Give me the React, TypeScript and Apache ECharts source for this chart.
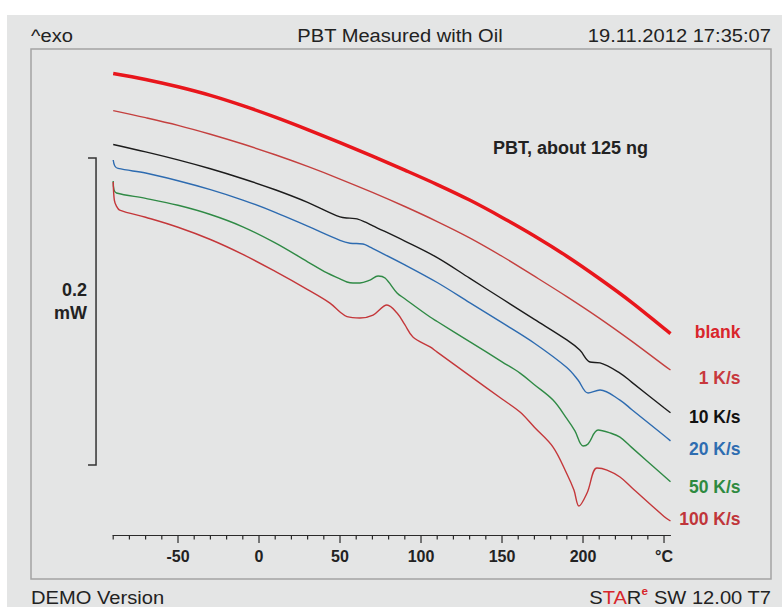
import React, { useEffect, useRef } from 'react';
import * as echarts from 'echarts';

const FONT = '"Liberation Sans", Arial, Helvetica, sans-serif';

// Temperature (°C) and heat flow (mW, arbitrary offset) per curve
const T_BLANK = [-90, -70, -50, -30, -10, 10, 30, 50, 70, 90, 110, 130, 150, 170, 190, 210, 230, 250, 254];
const V_BLANK = [0.3007, 0.2968, 0.2920, 0.2864, 0.2797, 0.2722, 0.2641, 0.2556, 0.2468, 0.2377, 0.2283, 0.2182, 0.2069, 0.1948, 0.1816, 0.1671, 0.1516, 0.1346, 0.1312];

const T_1K = [-90, -70, -50, -30, -10, 10, 30, 50, 70, 90, 110, 130, 150, 170, 190, 210, 230, 250, 254];
const V_1K = [0.2765, 0.2719, 0.2669, 0.2611, 0.2547, 0.2477, 0.2401, 0.2319, 0.2232, 0.2140, 0.2042, 0.1936, 0.1816, 0.1686, 0.1553, 0.1413, 0.1263, 0.1105, 0.1075];

const T_10K = [-90, -70, -50, -30, -10, 10, 30, 50, 56, 60.5, 66.7, 70, 90, 110, 130, 150, 170, 190, 198, 204.3, 210.5, 222.8, 230, 250, 254];
const V_10K = [0.2544, 0.2496, 0.2444, 0.2386, 0.2321, 0.2249, 0.2167, 0.2072, 0.2064, 0.2059, 0.2033, 0.2016, 0.1915, 0.1807, 0.1673, 0.1539, 0.1405, 0.1271, 0.1205, 0.1127, 0.1121, 0.1055, 0.0996, 0.0829, 0.0796];

const T_20K = [-90, -89, -87, -70, -50, -30, -10, 10, 30, 50, 56.2, 64.2, 68.5, 70, 90, 110, 130, 150, 170, 190, 196.9, 203.1, 210.5, 222.8, 230, 250, 254];
const V_20K = [0.2443, 0.2404, 0.2388, 0.2358, 0.2308, 0.2250, 0.2182, 0.2102, 0.2012, 0.1920, 0.1901, 0.1896, 0.1876, 0.1868, 0.1760, 0.1645, 0.1514, 0.1383, 0.1249, 0.1091, 0.1010, 0.0925, 0.0945, 0.0879, 0.0818, 0.0648, 0.0613];

const T_50K = [-90, -89.5, -88, -70, -50, -30, -10, 10, 30, 42, 50, 54.3, 58, 62.3, 68.5, 73.5, 77.8, 85.2, 90, 105.6, 110, 130, 150, 161.1, 170, 181.5, 190, 195, 200, 203.1, 209.3, 216.7, 222.8, 230, 250, 254];
const V_50K = [0.2306, 0.2248, 0.2228, 0.2193, 0.2148, 0.2088, 0.2008, 0.1903, 0.1780, 0.1707, 0.1668, 0.1648, 0.1642, 0.1642, 0.1661, 0.1687, 0.1674, 0.1577, 0.1539, 0.1420, 0.1391, 0.1260, 0.1128, 0.1055, 0.0979, 0.0879, 0.0758, 0.0678, 0.0580, 0.0593, 0.0684, 0.0665, 0.0638, 0.0571, 0.0384, 0.0347];

const T_100K = [-90, -89.3, -88, -86, -70, -50, -30, -10, 10, 30, 43.8, 50, 54.3, 62.3, 70.4, 79, 85.2, 90, 95, 105.6, 110, 130, 150, 161.1, 170, 181.5, 190, 194.4, 197.5, 202.5, 208.6, 214.8, 222.8, 230, 250, 254];
const V_100K = [0.2300, 0.2182, 0.2143, 0.2117, 0.2070, 0.2005, 0.1925, 0.1828, 0.1717, 0.1599, 0.1511, 0.1453, 0.1423, 0.1414, 0.1433, 0.1498, 0.1446, 0.1370, 0.1290, 0.1225, 0.1191, 0.1038, 0.0886, 0.0801, 0.0702, 0.0573, 0.0399, 0.0293, 0.0189, 0.0274, 0.0436, 0.0423, 0.0378, 0.0310, 0.0121, 0.0091];

const SERIES_NAMES = ['blank', '1 K/s', '10 K/s', '20 K/s', '50 K/s', '100 K/s'];
const LINE_COLORS = ['#e8161c', '#c4403f', '#1c1c1c', '#2d6bb0', '#2f8a45', '#c4373a'];
const LABEL_COLORS = ['#d9262c', '#c8383d', '#111111', '#2e6db1', '#2e8a40', '#c0353a'];
const LINE_WIDTHS = [3.5, 1.4, 1.4, 1.4, 1.4, 1.4];
const LABEL_DY = [-2, 8, 4, 8, 5, -2];

// axis ticks (°C)
const TICKS = [-90, -80, -70, -60, -50, -40, -30, -20, -10, 0, 10, 20, 30, 40, 50, 60, 70, 80, 90, 100, 110, 120, 130, 140, 150, 160, 170, 180, 190, 200, 210, 220, 230, 240, 250];
const MAJOR_TICKS = [-50, 0, 50, 100, 150, 200, 250];

// scale bar: 0.2 mW
const SCALE_T = -100.6;
const SCALE_TOP = 0.2456;
const SCALE_SIZE = 0.2;

const zip = (t: number[], v: number[]) => t.map((x, i) => [x, v[i]]);
const ALL = [
  zip(T_BLANK, V_BLANK),
  zip(T_1K, V_1K),
  zip(T_10K, V_10K),
  zip(T_20K, V_20K),
  zip(T_50K, V_50K),
  zip(T_100K, V_100K),
];

const TXT = '#222222';
const HDR = 19;
const SX = 1.06;

export default function App() {
  const ref = useRef<HTMLDivElement>(null);
  useEffect(() => {
    const chart = echarts.init(ref.current!, null, { renderer: 'svg' });
    const lineSeries = ALL.map((d, i) => ({
      type: 'line',
      name: SERIES_NAMES[i],
      data: d,
      showSymbol: false,
      symbol: 'none',
      smooth: 0.35,
      z: 3,
      lineStyle: { color: LINE_COLORS[i], width: LINE_WIDTHS[i] },
      endLabel: {
        show: true,
        formatter: SERIES_NAMES[i],
        color: LABEL_COLORS[i],
        fontFamily: FONT,
        fontWeight: 'bold',
        fontSize: 17.5,
        align: 'right',
        offset: [62, LABEL_DY[i]],
      },
    }));
    const option: any = {
      animation: false,
      backgroundColor: '#ffffff',
      grid: {
        left: 113.2,
        right: 111.5,
        top: 43.8,
        bottom: 72,
        containLabel: false,
        outerBoundsMode: 'none',
      },
      xAxis: {
        type: 'value',
        min: -90,
        max: 254,
        interval: 10,
        splitLine: { show: false },
        axisLine: { show: true, lineStyle: { color: '#2a2a2a', width: 1.2 } },
        axisTick: { show: false },
        axisLabel: {
          margin: 13,
          color: TXT,
          fontFamily: FONT,
          fontSize: 16,
          fontWeight: 'bold',
          formatter: (v: number) => (v % 50 === 0 ? (v === 250 ? '°C' : String(v)) : ''),
        },
      },
      yAxis: {
        type: 'value',
        min: 0,
        max: 0.32,
        show: false,
      },
      graphic: [
        { type: 'rect', z: -100, silent: true, shape: { x: 7, y: 15, width: 780, height: 600 }, style: { fill: '#e4e5e5' } },
        { type: 'rect', z: -90, silent: true, shape: { x: 31, y: 49, width: 740, height: 530 }, style: { fill: 'none', stroke: '#a3a3a3', lineWidth: 1.5 } },
        { type: 'text', x: 31, y: 35, scaleX: SX, style: { text: '^exo', fill: TXT, font: `${HDR}px ${FONT}`, align: 'left', verticalAlign: 'middle' } },
        { type: 'text', x: 400, y: 35, scaleX: SX, style: { text: 'PBT Measured with Oil', fill: TXT, font: `${HDR}px ${FONT}`, align: 'center', verticalAlign: 'middle' } },
        { type: 'text', x: 771, y: 35, scaleX: SX, style: { text: '19.11.2012 17:35:07', fill: TXT, font: `${HDR}px ${FONT}`, align: 'right', verticalAlign: 'middle' } },
        { type: 'text', x: 31, y: 597, scaleX: SX, style: { text: 'DEMO Version', fill: TXT, font: `${HDR}px ${FONT}`, align: 'left', verticalAlign: 'middle' } },
        {
          type: 'text', x: 771, y: 597, scaleX: SX,
          style: {
            text: '{k|S}{r|TA}{k|R}{sup|e}{k| SW 12.00 T7}',
            align: 'right', verticalAlign: 'middle',
            rich: {
              k: { fill: TXT, fontSize: HDR, fontFamily: FONT, lineHeight: 22 },
              r: { fill: '#d7262b', fontSize: HDR, fontFamily: FONT, lineHeight: 22 },
              sup: { fill: '#d7262b', fontSize: 11, fontFamily: FONT, fontWeight: 'bold', lineHeight: 11, verticalAlign: 'top', padding: [0, 0, 0, 0] },
            },
          },
        },
        { type: 'text', x: 570.5, y: 148, style: { text: 'PBT, about 125 ng', fill: TXT, font: `bold 18px ${FONT}`, align: 'center', verticalAlign: 'middle' } },
      ],
      series: [
        ...lineSeries,
        {
          type: 'custom',
          silent: true,
          clip: false,
          data: TICKS.map((t) => [t, MAJOR_TICKS.includes(t) ? 1 : 0]),
          renderItem: (params: any, api: any) => {
            const p = api.coord([api.value(0), 0]);
            const len = api.value(1) ? 8 : 4.5;
            return {
              type: 'line',
              shape: { x1: p[0], y1: p[1], x2: p[0], y2: p[1] + len },
              style: { stroke: '#2a2a2a', lineWidth: 1.2 },
            };
          },
        },
        {
          type: 'custom',
          silent: true,
          clip: false,
          data: [[SCALE_T, SCALE_TOP, SCALE_TOP - SCALE_SIZE]],
          renderItem: (params: any, api: any) => {
            const p1 = api.coord([api.value(0), api.value(1)]);
            const p2 = api.coord([api.value(0), api.value(2)]);
            return {
              type: 'group',
              children: [
                {
                  type: 'polyline',
                  shape: { points: [[p1[0] - 8, p1[1]], [p1[0], p1[1]], [p2[0], p2[1]], [p2[0] - 8, p2[1]]] },
                  style: { stroke: '#333333', lineWidth: 1.5, fill: null },
                },
                {
                  type: 'text',
                  x: p1[0] - 9,
                  y: (p1[1] + p2[1]) / 2 - 10,
                  style: { text: '0.2\nmW', fill: TXT, font: `bold 18px ${FONT}`, align: 'right', verticalAlign: 'middle', lineHeight: 23 },
                },
              ],
            };
          },
        },
      ],
    };
    chart.setOption(option);
    return () => chart.dispose();
  }, []);
  return <div ref={ref} style={{ position: 'absolute', left: 0, top: 0, width: 782, height: 607 }} />;
}
